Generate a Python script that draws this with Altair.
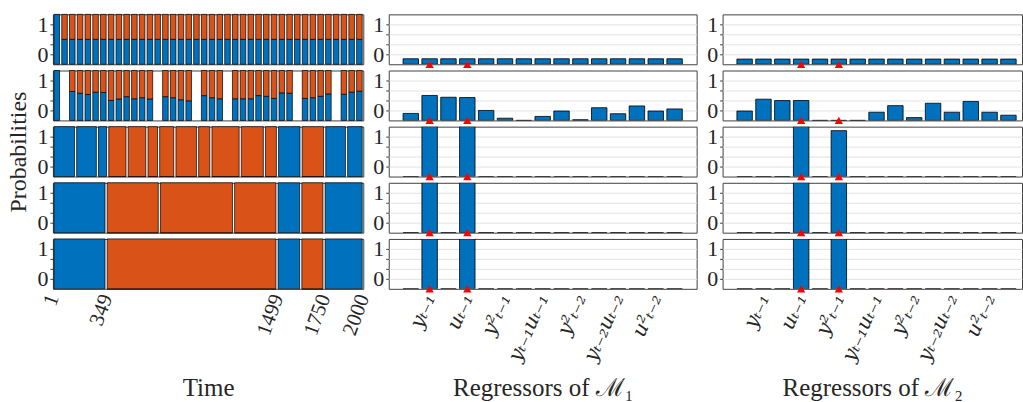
import json
import altair as alt
import pandas as pd

LO, HI = -1 / 3, 4 / 3
BLUE, ORANGE, RED = "#0072BD", "#D95319", "#FF0000"
FONT = "Liberation Serif"
MATHFONT = "DejaVu Serif"
TXT = "#262626"

# ---------------- Left column (time) ----------------
row1_block_p = [1.0] + [0.5] * 39
row2_block_p = [1.0, None, 0.58, 0.545, 0.52, 0.566, 0.56, 0.40, 0.43, 0.476,
                0.434, 0.455, 0.43, None, 0.476, 0.455, 0.414, 0.393, None, 0.497,
                0.455, 0.434, None, 0.434, 0.434, 0.434, 0.497, 0.483, 0.441, 0.552,
                0.545, None, 0.441, 0.455, 0.483, 0.531, None, 0.524, 0.566, 0.586]
# (start, end, probability of model 1)
row3_segs = [(0, 146, 1), (146, 287, 1), (287, 353, 1), (353, 478, 0), (478, 606, 0),
             (606, 681, 0), (681, 786, 0), (786, 932, 0), (932, 1018, 0), (1018, 1207, 0),
             (1207, 1363, 0), (1363, 1447, 0), (1447, 1599, 1), (1599, 1751, 0),
             (1751, 1892, 1), (1892, 2000, 1)]
row4_segs = [(0, 343, 1), (343, 686, 0), (686, 1164, 0), (1164, 1444, 0),
             (1444, 1597, 1), (1597, 1747, 0), (1747, 2000, 1)]
row5_segs = [(0, 343, 1), (343, 1444, 0), (1444, 1597, 1), (1597, 1747, 0),
             (1747, 2000, 1)]
BLOCK = 50
time_tick_pos = [1, 345, 1447, 1749, 2000]
time_tick_labels = ["1", "349", "1499", "1750", "2000"]

# ---------------- Regressor columns ----------------
regressor_index = list(range(1, 16))
m1_rows = [
    [-0.15] * 15,
    [-0.10, 0.50, 0.44, 0.43, 0.00, -0.26, LO, -0.20, -0.02, -0.31, 0.09, -0.11, 0.15, -0.02, 0.05],
    [LO, HI, LO, HI, LO, LO, LO, LO, LO, LO, LO, LO, LO, LO, LO],
    [LO, HI, LO, HI, LO, LO, LO, LO, LO, LO, LO, LO, LO, LO, LO],
    [LO, HI, LO, HI, LO, LO, LO, LO, LO, LO, LO, LO, LO, LO, LO],
]
m2_rows = [
    [-0.16] * 15,
    [-0.02, 0.375, 0.33, 0.33, LO, LO, LO, -0.06, 0.16, -0.24, 0.24, -0.06, 0.30, -0.06, -0.16],
    [LO, LO, LO, HI, LO, 1.2, LO, LO, LO, LO, LO, LO, LO, LO, LO],
    [LO, LO, LO, HI, LO, HI, LO, LO, LO, LO, LO, LO, LO, LO, LO],
    [LO, LO, LO, HI, LO, HI, LO, LO, LO, LO, LO, LO, LO, LO, LO],
]
m1_true = [2, 4]
m2_true = [4, 6]
reg_tick_pos = [2, 4, 6, 8, 10, 12, 14]
reg_tick_labels = ["yₜ₋₁", "uₜ₋₁", "y²ₜ₋₁", "yₜ₋₁uₜ₋₁", "y²ₜ₋₂", "yₜ₋₂uₜ₋₂", "u²ₜ₋₂"]

GAP = 7
ROW_H = 50

yscale = alt.Scale(domain=[LO, HI], nice=False, zero=False)


def yaxis(grid, title=None):
    if title:
        kw = dict(title=title, titleFont=FONT, titleFontSize=24, titleFontWeight="normal",
                  titleColor=TXT, titlePadding=6)
    else:
        kw = dict(title=None)
    return alt.Axis(
        values=[0, 1 / 3, 2 / 3, 1],
        labelExpr="abs(datum.value) < 0.001 ? '0' : (abs(datum.value - 1) < 0.001 ? '1' : '')",
        labelFontSize=22, labelFont=FONT, labelColor=TXT, labelPadding=2,
        labelOverlap=False, tickSize=3, tickColor="#404040", domain=False,
        grid=grid, gridColor="#e2e2e2", gridWidth=1, **kw)


def blocks_to_segs(plist):
    return [(i * BLOCK, (i + 1) * BLOCK, p) for i, p in enumerate(plist) if p is not None]


def bottom_axis(values, labels, title, font, italic, size, angle):
    expr = "{}[indexof({}, datum.value)]".format(
        json.dumps(labels, ensure_ascii=False), json.dumps(values))
    return alt.Axis(values=values, labelExpr=expr, labelAngle=angle,
                    labelAlign="right", labelBaseline="middle", labelFontSize=size,
                    labelFont=font, labelFontStyle="italic" if italic else "normal",
                    labelColor=TXT, labelPadding=6, labelFlush=False,
                    labelOverlap=False, ticks=False, domain=False, grid=False,
                    title=title, titleFont=FONT, titleFontSize=25,
                    titleFontWeight="normal", titleColor=TXT, titleY=107,
                    titleBaseline="alphabetic")


def left_panel(segs, bottom, ytitle=None):
    df = pd.DataFrame(segs, columns=["start", "end", "p"])
    xaxis = bottom_axis(time_tick_pos, time_tick_labels, "Time", FONT, False, 21, -70) if bottom else None
    xscale = alt.Scale(domain=[0, 2000], nice=False, zero=False)
    ya = yaxis(False, ytitle)
    base = alt.Chart(df).transform_calculate(
        xs=f"datum.start + {GAP}", xe=f"datum.end - {GAP}", lo=f"{LO}",
        mid=f"{LO} + {HI - LO} * datum.p", hi=f"{HI}")
    blue = base.mark_rect(color=BLUE, stroke="black", strokeWidth=0.7).encode(
        x=alt.X("xs:Q", scale=xscale, axis=xaxis), x2="xe:Q",
        y=alt.Y("lo:Q", scale=yscale, axis=ya), y2="mid:Q")
    orange = base.transform_filter("datum.p < 1").mark_rect(
        color=ORANGE, stroke="black", strokeWidth=0.7).encode(
        x=alt.X("xs:Q", scale=xscale, axis=xaxis), x2="xe:Q",
        y=alt.Y("mid:Q", scale=yscale, axis=ya), y2="hi:Q")
    return alt.layer(blue, orange).properties(width=311, height=ROW_H)


def reg_panel(vals, true_idx, dom_hi, width, bottom, title):
    df = pd.DataFrame({"idx": regressor_index, "v": vals})
    tri = pd.DataFrame({"idx": true_idx})
    xscale = alt.Scale(domain=[-0.17, dom_hi], nice=False, zero=False)
    xaxis = bottom_axis(reg_tick_pos, reg_tick_labels, title, MATHFONT, True, 20, -66) if bottom else None
    ya = yaxis(True)
    bars = alt.Chart(df).transform_calculate(
        xs="datum.idx - 0.41", xe="datum.idx + 0.41", lo=f"{LO}").mark_rect(
        color=BLUE, stroke="black", strokeWidth=0.8, clip=True).encode(
        x=alt.X("xs:Q", scale=xscale, axis=xaxis), x2="xe:Q",
        y=alt.Y("lo:Q", scale=yscale, axis=ya), y2="v:Q")
    tris = alt.Chart(tri).mark_point(
        shape="triangle-up", filled=True, color=RED, size=70, opacity=1, clip=False).encode(
        x=alt.X("idx:Q", scale=xscale, axis=xaxis),
        y=alt.YDatum(LO, scale=yscale, axis=ya))
    return alt.layer(bars, tris).properties(width=width, height=ROW_H)


left_rows = [blocks_to_segs(row1_block_p), blocks_to_segs(row2_block_p),
             row3_segs, row4_segs, row5_segs]

panels = []
for i in range(5):
    panels.append(left_panel(left_rows[i], i == 4, "Probabilities" if i == 2 else None))
    panels.append(reg_panel(m1_rows[i], m1_true, 16.17, 308.5, i == 4, "Regressors of ℳ₁"))
    panels.append(reg_panel(m2_rows[i], m2_true, 15.72, 300, i == 4, "Regressors of ℳ₂"))

chart = alt.concat(
    *panels, columns=3, spacing={"row": 6.25, "column": 25.5},
    bounds="flush", align="each"
).properties(
    padding={"left": 6, "top": 12, "right": 0, "bottom": 0}
).configure_view(stroke="#404040", strokeWidth=1)

chart.save("out.html", embed_options={"renderer": "svg", "actions": False})
